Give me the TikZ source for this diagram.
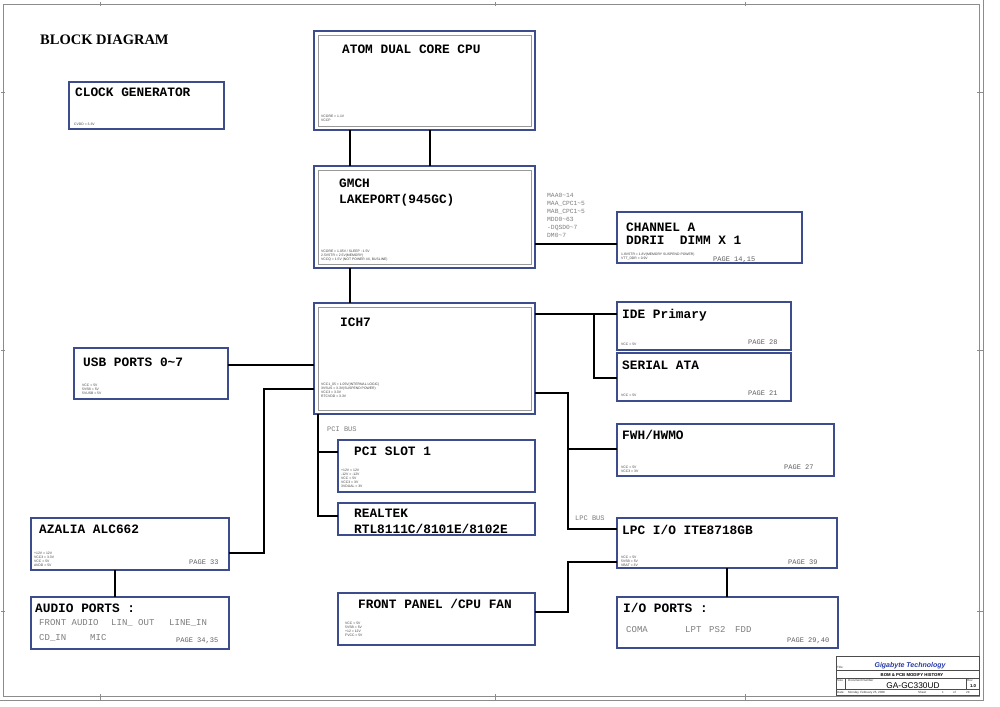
\documentclass[tikz,border=0pt]{standalone}
\usepackage{fontspec}
\setmainfont{Liberation Serif}
\newfontfamily\monofnt{Liberation Mono}
\newfontfamily\sansfnt{Liberation Sans}
\usetikzlibrary{calc}
\definecolor{boxblue}{RGB}{60,76,140}
\definecolor{sigray}{RGB}{125,125,125}
\definecolor{pagegray}{RGB}{95,95,95}
\definecolor{framegray}{RGB}{140,140,140}
\definecolor{gigablue}{RGB}{40,60,170}
\begin{document}
\begin{tikzpicture}[x=1pt,y=-1pt,
  blk/.style={draw=boxblue, line width=2.4pt, fill=white, anchor=north west, inner sep=0pt, outer sep=0pt},
  innerln/.style={draw=black!40, line width=0.6pt},
  wire/.style={line width=2.3pt, black},
  lbl/.style={anchor=base west, inner sep=0pt, font=\monofnt\bfseries\fontsize{12.8}{13}\selectfont},
  gtxt/.style={anchor=base west, inner sep=0pt, text=sigray, font=\monofnt\fontsize{9}{9}\selectfont},
  pg/.style={anchor=base west, inner sep=0pt, text=pagegray, font=\monofnt\fontsize{7}{7}\selectfont},
  sig/.style={anchor=base west, inner sep=0pt, text=sigray, font=\monofnt\fontsize{6.3}{7.8}\selectfont},
  tiny/.style={anchor=south west, inner sep=0pt, font=\sansfnt\fontsize{3.4}{4}\selectfont, align=left, text=black!75},
  frm/.style={draw=framegray, line width=0.7pt},
  tb/.style={draw=black!70, line width=0.5pt},
  tbt/.style={inner sep=0pt, font=\sansfnt\fontsize{3}{3}\selectfont, text=black!80}
]
\useasboundingbox (0,0) rectangle (1000,706);
\fill[white] (0,0) rectangle (1000,706);

% frame
\draw[frm] (3,4) rectangle (979,696);
\draw[frm] (983,0) -- (983,700) -- (0,700);
\foreach \yy in {92,350,611} {\draw[frm] (1,\yy) -- (5,\yy); \draw[frm] (977,\yy) -- (983,\yy);}
\foreach \xx in {100,495,745} {\draw[frm] (\xx,2) -- (\xx,6); \draw[frm] (\xx,694) -- (\xx,700);}

\node[anchor=base west, inner sep=0pt, font=\bfseries\fontsize{14.5}{15}\selectfont] (title) at (40,45) {BLOCK DIAGRAM};

% boxes
\node[blk, minimum width=155pt, minimum height=47pt] (clk) at (69,82) {};
\node[blk, minimum width=221pt, minimum height=99pt] (cpu) at (314,31) {};
\node[blk, minimum width=221pt, minimum height=102pt] (gmch) at (314,166) {};
\node[blk, minimum width=185pt, minimum height=51pt] (chA) at (617,212) {};
\node[blk, minimum width=221pt, minimum height=111pt] (ich) at (314,303) {};
\node[blk, minimum width=174pt, minimum height=48pt] (ide) at (617,302) {};
\node[blk, minimum width=174pt, minimum height=48pt] (sata) at (617,353) {};
\node[blk, minimum width=154pt, minimum height=51pt] (usb) at (74,348) {};
\node[blk, minimum width=197pt, minimum height=52pt] (pci) at (338,440) {};
\node[blk, minimum width=197pt, minimum height=32pt] (rtl) at (338,503) {};
\node[blk, minimum width=217pt, minimum height=52pt] (fwh) at (617,424) {};
\node[blk, minimum width=220pt, minimum height=50pt] (lpc) at (617,518) {};
\node[blk, minimum width=198pt, minimum height=52pt] (aza) at (31,518) {};
\node[blk, minimum width=198pt, minimum height=52pt] (aud) at (31,597) {};
\node[blk, minimum width=197pt, minimum height=52pt] (fp) at (338,593) {};
\node[blk, minimum width=221pt, minimum height=51pt] (io) at (617,597) {};

% inner lines
\foreach \b in {cpu,gmch,ich} {\draw[innerln] ($(\b.north west)+(4,4)$) rectangle ($(\b.south east)+(-4,-4)$);}

% connectors
\draw[wire] (cpu.south -| 350,0) -- (gmch.north -| 350,0);
\draw[wire] (cpu.south -| 430,0) -- (gmch.north -| 430,0);
\draw[wire] (gmch.east |- 0,244) -- (chA.west |- 0,244);
\draw[wire] (gmch.south -| 350,0) -- (ich.north -| 350,0);
\draw[wire] (ich.east |- 0,314) -- (ide.west |- 0,314);
\coordinate (ideT) at (594,314);
\coordinate (sataT) at (594,378);
\draw[wire] (ideT) -- (sataT) -- (sata.west |- sataT);
\coordinate (lpcA) at (568,393);
\coordinate (lpcB) at (568,529);
\coordinate (fwhT) at (568,449);
\draw[wire] (ich.east |- lpcA) -- (lpcA) -- (lpcB) -- (lpc.west |- lpcB);
\draw[wire] (fwhT) -- (fwh.west |- fwhT);
\coordinate (fpA) at (568,562);
\coordinate (fpB) at (568,612);
\draw[wire] (lpc.west |- fpA) -- (fpA) -- (fpB) -- (fp.east |- fpB);
\draw[wire] (lpc.south -| 727,0) -- (io.north -| 727,0);
\draw[wire] (usb.east |- 0,365) -- (ich.west |- 0,365);
\coordinate (azA) at (264,389);
\coordinate (azB) at (264,553);
\draw[wire] (ich.west |- azA) -- (azA) -- (azB) -- (aza.east |- azB);
\draw[wire] (aza.south -| 115,0) -- (aud.north -| 115,0);
\coordinate (pciA) at (318,516);
\coordinate (pciT) at (318,452);
\draw[wire] (ich.south -| pciA) -- (pciA) -- (rtl.west |- pciA);
\draw[wire] (pciT) -- (pci.west |- pciT);

% labels
\node[lbl] (tclk) at (75,97) {CLOCK GENERATOR};
\node[lbl] (tcpu) at (342,54) {ATOM DUAL CORE CPU};
\node[lbl] (tgm1) at (339,187) {GMCH};
\node[lbl] (tgm2) at (339,203) {LAKEPORT(945GC)};
\node[lbl] (tch1) at (626,231) {CHANNEL A};
\node[lbl] (tch2) at (626,244) {DDRII\ \ DIMM X 1};
\node[lbl] (tich) at (340,326) {ICH7};
\node[lbl] (tide) at (622,318) {IDE Primary};
\node[lbl] (tsata) at (622,369) {SERIAL ATA};
\node[lbl] (tusb) at (83,366) {USB PORTS 0\char`\~7};
\node[lbl] (tpci) at (354,455) {PCI SLOT 1};
\node[lbl] (trt1) at (354,517) {REALTEK};
\node[lbl] (trt2) at (354,533) {RTL8111C/8101E/8102E};
\node[lbl] (tfwh) at (622,439) {FWH/HWMO};
\node[lbl] (tlpc) at (622,534) {LPC I/O ITE8718GB};
\node[lbl] (taza) at (39,533) {AZALIA ALC662};
\node[lbl] (taud) at (35,612) {AUDIO PORTS :};
\node[lbl] (tfp) at (358,608) {FRONT PANEL /CPU FAN};
\node[lbl] (tio) at (623,612) {I/O PORTS :};

% gray texts
\node[gtxt] (a1) at (39,625) {FRONT AUDIO};
\node[gtxt] (a2) at (111,625) {LIN\_ OUT};
\node[gtxt] (a3) at (169,625) {LINE\_IN};
\node[gtxt] (a4) at (39,640) {CD\_IN};
\node[gtxt] (a5) at (90,640) {MIC};
\node[gtxt] (i1) at (626,632) {COMA};
\node[gtxt] (i2) at (685,632) {LPT};
\node[gtxt] (i3) at (709,632) {PS2};
\node[gtxt] (i4) at (735,632) {FDD};

% page numbers
\node[pg] (p1) at (713,261) {PAGE 14,15};
\node[pg] (p2) at (748,344) {PAGE 28};
\node[pg] (p3) at (748,395) {PAGE 21};
\node[pg] (p4) at (784,469) {PAGE 27};
\node[pg] (p5) at (788,564) {PAGE 39};
\node[pg] (p6) at (189,564) {PAGE 33};
\node[pg] (p7) at (176,642) {PAGE 34,35};
\node[pg] (p8) at (787,642) {PAGE 29,40};

% bus / signal labels
\node[sig] (s1) at (547,197) {MAA0\char`\~14};
\node[sig] (s2) at (547,205) {MAA\_CPC1\char`\~5};
\node[sig] (s3) at (547,213) {MAB\_CPC1\char`\~5};
\node[sig] (s4) at (547,221) {MDD0\char`\~63};
\node[sig] (s5) at (547,229) {-DQSD0\char`\~7};
\node[sig] (s6) at (547,237) {DM0\char`\~7};
\node[pg, text=sigray] (pcibus) at (327,431) {PCI BUS};
\node[pg, text=sigray] (lpcbus) at (575,520) {LPC BUS};

% tiny power notes
\node[tiny] (n1) at (74,126) {CVDD = 3.3V};
\node[tiny] (n2) at (321,122) {VCORE = 1.1V\\VCCP};
\node[tiny] (n3) at (321,261) {VCORE = 1.05V / SLEEP : 1.5V\\2.5VSTR = 2.5V(MEMORY)\\VCCQ = 1.5V (NOT POWER 4X, BUSLINE)};
\node[tiny] (n4) at (621,260) {1.8VSTR = 1.8V(MEMORY SUSPEND POWER)\\VTT\_DDR = 0.9V};
\node[tiny] (n5) at (321,398) {VCC1\_05 = 1.05V(INTERNAL LOGIC)\\3VSUS = 3.3V(SUSPEND POWER)\\VCC3 = 3.3V\\RTCVDD = 3.3V};
\node[tiny] (n6) at (621,346) {VCC = 5V};
\node[tiny] (n7) at (621,397) {VCC = 5V};
\node[tiny] (n8) at (82,395) {VCC = 5V\\5VSB = 5V\\5VUSB = 5V};
\node[tiny] (n9) at (341,488) {+12V = 12V\\-12V = -12V\\VCC = 5V\\VCC3 = 3V\\3VDUAL = 3V};
\node[tiny] (n10) at (621,473) {VCC = 5V\\VCC3 = 3V};
\node[tiny] (n11) at (621,567) {VCC = 5V\\5VSB = 5V\\VBAT = 3V};
\node[tiny] (n12) at (34,567) {+12V = 12V\\VCC3 = 3.3V\\VCC = 5V\\AVDD = 5V};
\node[tiny] (n13) at (345,637) {VCC = 5V\\5VSB = 5V\\+12 = 12V\\FVCC = 5V};

% title block
\draw[tb] (836,656) rectangle (979,695);
\draw[tb] (836,670) -- (979,670);
\draw[tb] (836,678) -- (979,678);
\draw[tb] (836,689) -- (979,689);
\draw[tb] (845,678) -- (845,689);
\draw[tb] (966,678) -- (966,689);
\node[inner sep=0pt, anchor=base, text=gigablue, font=\sansfnt\bfseries\itshape\fontsize{7}{7}\selectfont] (giga) at (910,667) {Gigabyte Technology};
\node[tbt, anchor=base west] (ttl) at (837,668) {Title};
\node[inner sep=0pt, anchor=base, font=\sansfnt\bfseries\fontsize{4.3}{4.3}\selectfont] (bom) at (912,676) {BOM \& PCB MODIFY HISTORY};
\node[tbt, anchor=base west] (sz) at (837,681) {Size};
\node[tbt, anchor=base west] (dn) at (848,681) {Document Number};
\node[inner sep=0pt, anchor=base, font=\sansfnt\fontsize{8.3}{8.3}\selectfont] (ga) at (913,688) {GA-GC330UD};
\node[tbt, anchor=base west] (rv) at (967,681) {Rev};
\node[inner sep=0pt, anchor=base, font=\sansfnt\bfseries\fontsize{4.3}{4.3}\selectfont] (rvn) at (973,687) {1.0};
\node[tbt, anchor=base west] (dt) at (837,693) {Date:};
\node[tbt, anchor=base west] (dtv) at (848,693) {Monday, February 25, 2008};
\node[tbt, anchor=base west] (sh) at (918,693) {Sheet};
\node[tbt, anchor=base west] (sh1) at (942,693) {1};
\node[tbt, anchor=base west] (sho) at (953,693) {of};
\node[tbt, anchor=base west] (sh2) at (966,693) {29};
\end{tikzpicture}
\end{document}
